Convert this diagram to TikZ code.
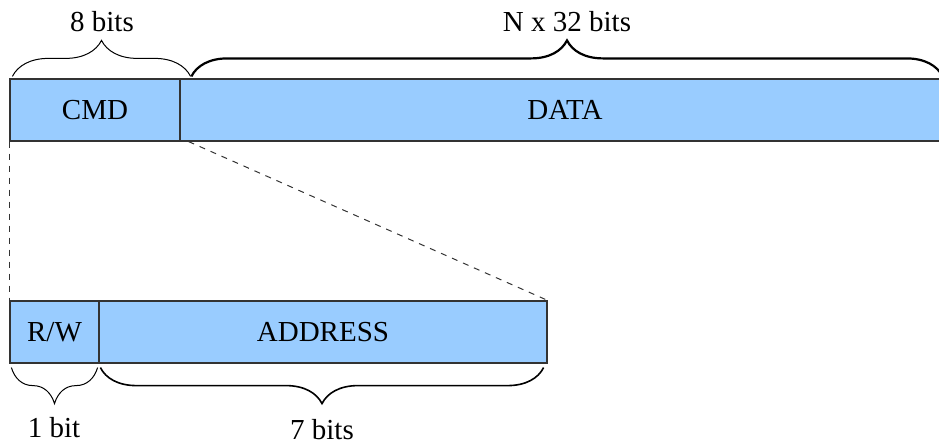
\documentclass[tikz,border=0pt]{standalone}
\usepackage{fontspec}
\setmainfont{Liberation Serif}
\usepackage{xcolor}
\usepackage{tikz}
\usetikzlibrary{decorations.pathreplacing}
\definecolor{cellblue}{HTML}{99CCFF}
\definecolor{edgegray}{HTML}{333333}

\begin{document}
\begin{tikzpicture}[x=0.5pt,y=-0.5pt,
  cell/.style={draw=edgegray,fill=cellblue,line width=0.6pt,minimum height=31pt,inner sep=0pt,font=\fontsize{14.5}{17}\selectfont},
  lbl/.style={font=\fontsize{14.5}{17}\selectfont,inner sep=0pt},
  brc/.style={decorate,decoration={brace,amplitude=18pt},line width=0.5pt}]
\useasboundingbox (0,0) rectangle (939,445);
\node[cell,minimum width=385pt] (data) at (565,110) {DATA};
\node[cell,minimum width=85pt] (cmd) at (95,110) {CMD};
\node[cell,minimum width=224pt] (addr) at (323,332) {ADDRESS};
\node[cell,minimum width=44.5pt] (rw) at (54.5,332) {R/W};
\draw [dashed,edgegray,line width=0.5pt] (cmd.south west) -- (rw.north west);
\draw [dashed,edgegray,line width=0.5pt] ([xshift=4pt]cmd.south east) -- (addr.north east);
\draw [brc] ([xshift=1.5pt,yshift=1pt]cmd.north west) -- ([xshift=5pt,yshift=1pt]cmd.north east);
\draw [brc,line width=1.1pt] ([xshift=6pt,yshift=1pt]data.north west) -- ([xshift=-4pt,yshift=1pt]data.north east);
\draw [brc] ([xshift=-1pt,yshift=-2pt]rw.south east) -- ([xshift=1pt,yshift=-2pt]rw.south west);
\draw [brc,line width=0.8pt] ([xshift=-2pt,yshift=-2pt]addr.south east) -- ([xshift=1pt,yshift=-2pt]addr.south west);
\node[lbl] (eight) at (102,22) {8 bits};
\node[lbl] (nwords) at (567,22) {N x 32 bits};
\node[lbl] (one) at (54,428) {1 bit};
\node[lbl] (seven) at (322,430) {7 bits};
\end{tikzpicture}
\end{document}
